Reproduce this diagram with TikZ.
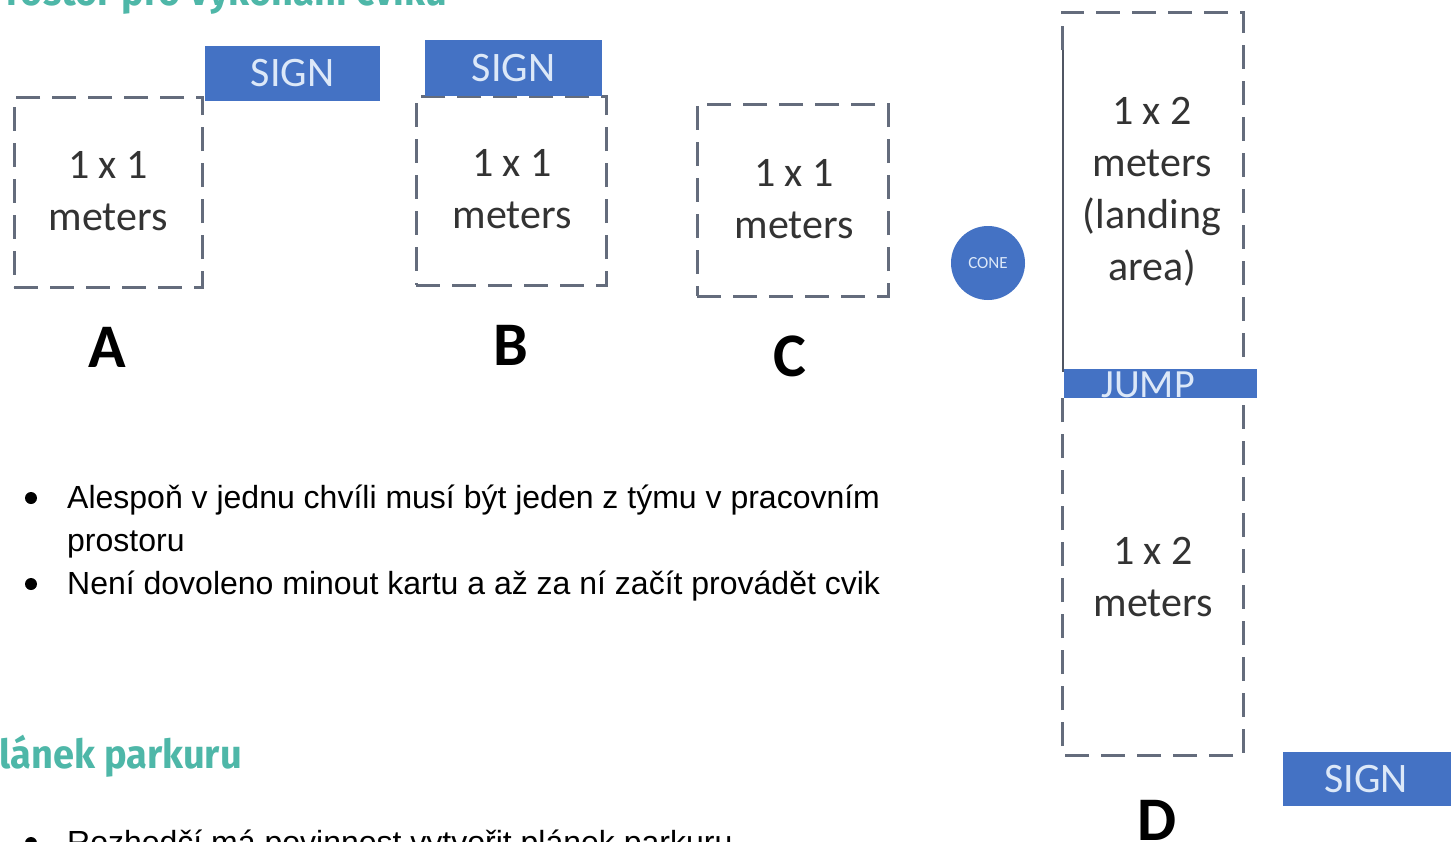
\documentclass[tikz,border=0pt]{standalone}
\usepackage{fontspec}
\usepackage{graphicx}
\setmainfont{Carlito}
\newfontfamily\arialf{Liberation Sans}
\newfontfamily\headf{Fira Sans}
\definecolor{signblue}{HTML}{4472C4}
\definecolor{signtext}{HTML}{DCE8F8}
\definecolor{dashgray}{HTML}{646C7C}
\definecolor{boxtext}{HTML}{333333}
\definecolor{teal}{HTML}{4EB7A8}
\begin{document}
\begin{tikzpicture}[x=1pt,y=-1pt,
  dbox/.style={draw=dashgray, line width=3pt, dash pattern=on 24pt off 12pt, inner sep=0pt},
  dline/.style={draw=dashgray, line width=3pt, dash pattern=on 24pt off 12pt},
  boxtxt/.style={text=boxtext, align=center, font=\fontsize{42}{52}\selectfont},
  sign/.style={fill=signblue, text=signtext, inner sep=0pt, font=\fontsize{42}{50}\selectfont},
  signtxt/.style={text=signtext, inner sep=0pt, font=\fontsize{40}{48}\selectfont},
  lbl/.style={font=\fontsize{62}{70}\selectfont\bfseries, text=black},
  head/.style={font=\headf\bfseries\fontsize{40}{48}\selectfont, text=teal, anchor=base east, inner sep=0pt},
  bul/.style={font=\arialf\fontsize{32}{40}\selectfont, anchor=base west, inner sep=0pt},
  dot/.style={circle, fill=black, inner sep=0pt, minimum size=12pt}]
\useasboundingbox (0,0) rectangle (1451,841);
\clip (0,0) rectangle (1451,841);
\fill[white] (0,0) rectangle (1451,841);

% headings
\node[head] (h1) at (447,5) {\scalebox{0.95}[1]{Prostor pro vykonání cviku}};
\node[head] (h2) at (242,768) {\scalebox{0.95}[1]{Plánek parkuru}};

% box A
\node[dbox, minimum width=188pt, minimum height=190pt] (boxA) at (108,192) {};
\node[boxtxt] (tA) at (108,191) {1 x 1\\meters};
\node[sign, minimum width=175pt, minimum height=55pt] (signA) at (292.5,73.5) {SIGN};
\node[lbl] (labA) at (107,347) {A};

% box B
\node[dbox, minimum width=190pt, minimum height=189pt] (boxB) at (511,190.5) {};
\node[boxtxt] (tB) at (512,189) {1 x 1\\meters};
\node[sign, minimum width=177pt, minimum height=56pt] (signB) at (513.5,68) {SIGN};
\node[lbl] (labB) at (511,345) {B};

% box C
\node[dbox, minimum width=191pt, minimum height=192pt] (boxC) at (792.5,200) {};
\node[boxtxt] (tC) at (794,199) {1 x 1\\meters};
\node[lbl] (labC) at (790,356) {C};

% cone
\node[circle, fill=signblue, minimum size=74pt, inner sep=0pt, text=signtext,
      font=\fontsize{17}{20}\selectfont] (cone) at (988,263) {CONE};

% box D
\coordinate (d1) at (1062,50);
\coordinate (d2) at (1062,12);
\coordinate (d3) at (1243,12);
\coordinate (d4) at (1243,755);
\coordinate (d5) at (1062,755);
\coordinate (d6) at (1062,398);
\draw[dline] (d1) -- (d2) -- (d3) -- (d4) -- (d5) -- (d6);
\coordinate (l1) at (1063,50);
\coordinate (l2) at (1063,372);
\draw[dashgray!80!black, line width=1.2pt] (l1) -- (l2);
\node[boxtxt] (tD1) at (1152,192) {1 x 2\\meters\\(landing\\area)};
\node[boxtxt] (tD2) at (1153,577) {1 x 2\\meters};
\node[fill=signblue, inner sep=0pt, minimum width=193pt, minimum height=29pt] (jump) at (1160.5,383.5) {};
\node[signtxt] (jumptxt) at (1148,385) {JUMP};
\node[sign, minimum width=172pt, minimum height=54pt] (signD) at (1369,779) {};
\node[signtxt, font=\fontsize{42}{50}\selectfont] (signDtxt) at (1366,779) {SIGN};
\node[lbl] (labD) at (1157,820) {D};

% bullets
\node[dot] (b1) at (31,498) {};
\node[bul] (t1) at (67,508) {Alespoň v jednu chvíli musí být jeden z týmu v pracovním};
\node[bul] (t2) at (67,551) {prostoru};
\node[dot] (b2) at (31,584) {};
\node[bul] (t3) at (67,594) {Není dovoleno minout kartu a až za ní začít provádět cvik};
\node[dot] (b3) at (31,843) {};
\node[bul] (t4) at (67,853) {Rozhodčí má povinnost vytvořit plánek parkuru};
\end{tikzpicture}
\end{document}
